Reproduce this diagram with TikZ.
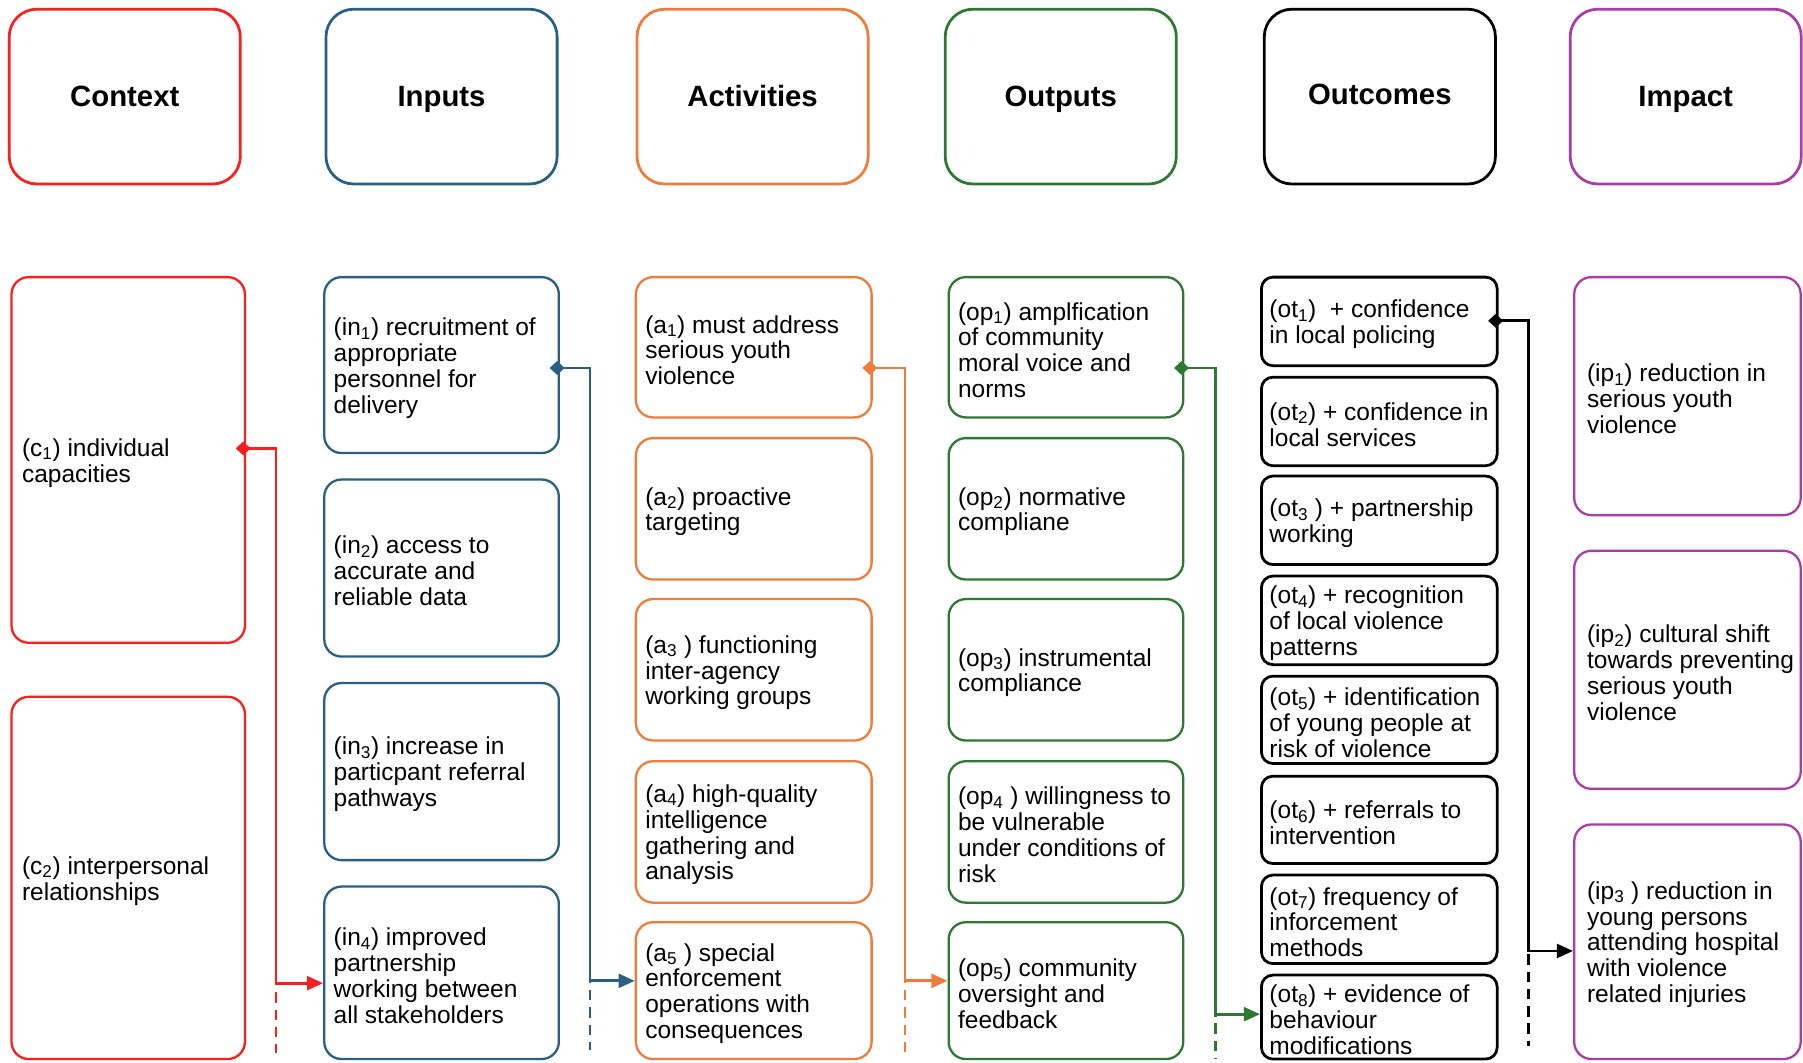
\documentclass[tikz,border=0pt]{standalone}
\usepackage{fontspec}
\setmainfont{Liberation Sans}
\usetikzlibrary{arrows.meta}

\definecolor{ctxred}{RGB}{250,30,30}
\definecolor{inblue}{RGB}{40,95,130}
\definecolor{actorange}{RGB}{237,125,60}
\definecolor{outgreen}{RGB}{45,120,50}
\definecolor{impurple}{RGB}{170,60,170}

% #1 name, #2 card style, #3 colour, #4 left x, #5 top y, #6 width, #7 height, #8 text offset, #9 text
\newcommand\mkcard[9]{%
  \node[#2, draw=#3, minimum width=#6pt, minimum height=#7pt] (#1) at ({#4+#6/2},{#5+#7/2}) {};
  \node[txt] (#1t) at ([xshift=#8pt,yshift=-2.5pt]#1.west) {#9};}

\begin{document}
\begin{tikzpicture}[x=1pt,y=-1pt,
  head/.style={draw, line width=2.4pt, rounded corners=24pt, minimum width=201pt,
    minimum height=152pt, inner sep=0pt, text height=18pt, text depth=0pt,
    font=\fontsize{25.5}{28}\selectfont\bfseries},
  card/.style={line width=2pt, rounded corners=15pt, inner sep=0pt},
  slim/.style={line width=2.4pt, rounded corners=10pt, inner sep=0pt},
  txt/.style={anchor=west, align=left, inner sep=0pt, font=\fontsize{21.3}{22.5}\selectfont},
  link/.style={line width=2.4pt, draw=#1,
    {Diamond[length=13pt,width=12pt,fill=#1]}-{Triangle[length=14pt,width=12pt,fill=#1]}},
  tail/.style={line width=2.4pt, draw=#1, dash pattern=on 9pt off 6pt}]
\useasboundingbox (0,0) rectangle (1568,924);

% column headers
\node[head, draw=ctxred]    (hctx) at (108.5,84) {Context};
\node[head, draw=inblue]    (hin)  at (384,84)   {Inputs};
\node[head, draw=actorange] (hact) at (654.5,84) {Activities};
\node[head, draw=outgreen]  (hout) at (922.5,84) {Outputs};
\node[head, draw=black]     (hoc)  at (1200,84)  {\raisebox{2pt}{Outcomes}};
\node[head, draw=impurple]  (himp) at (1466,84)  {Impact};

% context
\mkcard{c1}{card}{ctxred}{10}{241}{203}{318}{10}{(c\textsubscript{1}) individual\\capacities}
\mkcard{c2}{card}{ctxred}{10}{606}{203}{315}{10}{(c\textsubscript{2}) interpersonal\\relationships}

% inputs
\mkcard{in1}{card}{inblue}{282}{241}{204}{153}{9}{(in\textsubscript{1}) recruitment of\\appropriate\\personnel for\\delivery}
\mkcard{in2}{card}{inblue}{282}{417}{204}{154}{9}{(in\textsubscript{2}) access to\\accurate and\\reliable data}
\mkcard{in3}{card}{inblue}{282}{594}{204}{154}{9}{(in\textsubscript{3}) increase in\\particpant referral\\pathways}
\mkcard{in4}{card}{inblue}{282}{771}{204}{150}{9}{(in\textsubscript{4}) improved\\partnership\\working between\\all stakeholders}

% activities
\mkcard{a1}{card}{actorange}{553}{241}{205}{122}{9}{(a\textsubscript{1}) must address\\serious youth\\violence}
\mkcard{a2}{card}{actorange}{553}{381}{205}{123}{9}{(a\textsubscript{2}) proactive\\targeting}
\mkcard{a3}{card}{actorange}{553}{521}{205}{123}{9}{(a\textsubscript{3} ) functioning\\inter-agency\\working groups}
\mkcard{a4}{card}{actorange}{553}{662}{205}{123}{9}{(a\textsubscript{4}) high-quality\\intelligence\\gathering and\\analysis}
\mkcard{a5}{card}{actorange}{553}{802}{205}{119}{9}{(a\textsubscript{5} ) special\\enforcement\\operations with\\consequences}

% outputs
\mkcard{op1}{card}{outgreen}{825}{241}{204}{122}{9}{(op\textsubscript{1}) amplfication\\of community\\moral voice and\\norms}
\mkcard{op2}{card}{outgreen}{825}{381}{204}{123}{9}{(op\textsubscript{2}) normative\\compliane}
\mkcard{op3}{card}{outgreen}{825}{521}{204}{123}{9}{(op\textsubscript{3}) instrumental\\compliance}
\mkcard{op4}{card}{outgreen}{825}{662}{204}{123}{9}{(op\textsubscript{4} ) willingness to\\be vulnerable\\under conditions of\\risk}
\mkcard{op5}{card}{outgreen}{825}{802}{204}{119}{9}{(op\textsubscript{5}) community\\oversight and\\feedback}

% outcomes
\mkcard{ot1}{slim}{black}{1097}{241}{205}{77}{8}{(ot\textsubscript{1})\ \ + confidence\\in local policing}
\mkcard{ot2}{slim}{black}{1097}{328}{205}{77}{8}{(ot\textsubscript{2}) + confidence in\\local services}
\mkcard{ot3}{slim}{black}{1097}{414}{205}{77}{8}{(ot\textsubscript{3} ) + partnership\\working}
\mkcard{ot4}{slim}{black}{1097}{501}{205}{77}{8}{(ot\textsubscript{4}) + recognition\\of local violence\\patterns}
\mkcard{ot5}{slim}{black}{1097}{588}{205}{76}{8}{(ot\textsubscript{5}) + identification\\of young people at\\risk of violence}
\mkcard{ot6}{slim}{black}{1097}{675}{205}{76}{8}{(ot\textsubscript{6}) + referrals to\\intervention}
\mkcard{ot7}{slim}{black}{1097}{761}{205}{77}{8}{(ot\textsubscript{7}) frequency of\\inforcement\\methods}
\mkcard{ot8}{slim}{black}{1097}{848}{205}{73}{8}{(ot\textsubscript{8}) + evidence of\\behaviour\\modifications}

% impact
\mkcard{ip1}{card}{impurple}{1369}{241}{197}{207}{12}{(ip\textsubscript{1}) reduction in\\serious youth\\violence}
\mkcard{ip2}{card}{impurple}{1369}{479}{197}{207}{12}{(ip\textsubscript{2}) cultural shift\\towards preventing\\serious youth\\violence}
\mkcard{ip3}{card}{impurple}{1369}{717}{197}{204}{12}{(ip\textsubscript{3} ) reduction in\\young persons\\attending hospital\\with violence\\related injuries}

% bend points of the connectors
\coordinate (r1) at (240,390);  \coordinate (r2) at (240,855);  \coordinate (r3) at (240,916);
\coordinate (b1) at (513,320);  \coordinate (b2) at (513,853);  \coordinate (b3) at (513,913);
\coordinate (o1) at (787,320);  \coordinate (o2) at (787,853);  \coordinate (o3) at (787,916);
\coordinate (g1) at (1057,320); \coordinate (g2) at (1057,882); \coordinate (g3) at (1057,921);
\coordinate (k1) at (1329,279); \coordinate (k2) at (1329,827); \coordinate (k3) at (1329,910);

% connectors
\draw[link=ctxred]    ([xshift=-9pt]c1.east |- r1)  -- (r1) -- (r2) -- (in4.west |- r2);
\draw[link=inblue]    ([xshift=-9pt]in1.east |- b1) -- (b1) -- (b2) -- (a5.west |- b2);
\draw[link=actorange] ([xshift=-9pt]a1.east |- o1)  -- (o1) -- (o2) -- (op5.west |- o2);
\draw[link=outgreen]  ([xshift=-9pt]op1.east |- g1) -- (g1) -- (g2) -- (ot8.west |- g2);
\draw[link=black]     ([xshift=-9pt]ot1.east |- k1) -- (k1) -- (k2) -- (ip3.west |- k2);

% dashed continuations below the arrows
\draw[tail=ctxred]    ([yshift=7pt]r2) -- (r3);
\draw[tail=inblue]    ([yshift=7pt]b2) -- (b3);
\draw[tail=actorange] ([yshift=7pt]o2) -- (o3);
\draw[tail=outgreen]  ([yshift=7pt]g2) -- (g3);
\draw[tail=black]     ([yshift=12pt]k2) -- (k3);
\end{tikzpicture}
\end{document}
